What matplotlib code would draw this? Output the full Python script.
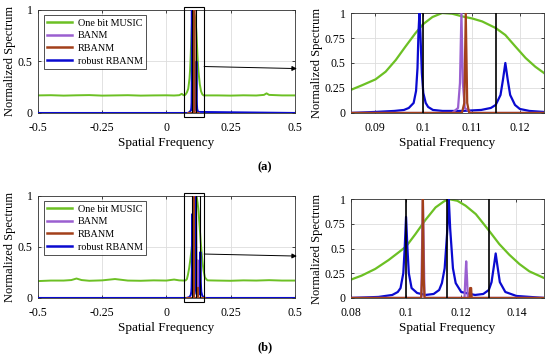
import matplotlib
matplotlib.use('Agg')
import matplotlib.pyplot as plt
from matplotlib.patches import Rectangle

plt.rcParams['font.family'] = ['Liberation Serif', 'DejaVu Serif']

GREEN = '#6cc024'
PURPLE = '#9a5fd0'
RED = '#a3401a'
BLUE = '#0a0ad0'

# ---- (a) zoomed spectra ----
freq_a = [0.0852, 0.0874, 0.0901, 0.0922, 0.0943, 0.0963, 0.0984, 0.1, 0.1019, 0.1039,
          0.106, 0.1081, 0.1101, 0.1122, 0.115, 0.117, 0.1191, 0.1212, 0.1232, 0.125]
music_a = [0.235, 0.279, 0.336, 0.413, 0.53, 0.664, 0.80, 0.89, 0.96, 1.0,
           0.993, 0.966, 0.946, 0.916, 0.85, 0.78, 0.664, 0.55, 0.463, 0.40]

robust_a_x = [0.085, 0.09, 0.094, 0.096, 0.097, 0.098, 0.0985, 0.0988, 0.099, 0.0992, 0.0994, 0.0997,
              0.1, 0.1005, 0.101, 0.102, 0.104, 0.108, 0.112, 0.114, 0.115, 0.116, 0.1165, 0.117,
              0.1175, 0.118, 0.119, 0.12, 0.122, 0.125]
robust_a_y = [0.0, 0.01, 0.02, 0.03, 0.05, 0.1, 0.22, 0.45, 0.8, 1.0, 0.8, 0.4,
              0.2, 0.1, 0.06, 0.03, 0.02, 0.02, 0.03, 0.05, 0.08, 0.18, 0.33, 0.5,
              0.33, 0.18, 0.08, 0.04, 0.02, 0.01]
banm_a_x = [0.085, 0.106, 0.1072, 0.1076, 0.1079, 0.1082, 0.1086, 0.11, 0.125]
banm_a_y = [0.0, 0.0, 0.05, 0.3, 1.0, 0.3, 0.05, 0.0, 0.0]
rbanm_a_x = [0.085, 0.108, 0.1085, 0.1088, 0.1091, 0.1095, 0.125]
rbanm_a_y = [0.0, 0.0, 0.1, 1.0, 0.1, 0.0, 0.0]
true_a = [0.1, 0.115]

# (a) far-field baseline of one bit MUSIC
far_a_left_x = [-0.5, -0.45, -0.4, -0.35, -0.3, -0.25, -0.2, -0.15, -0.1, -0.05, 0.0,
                0.03, 0.05, 0.06, 0.065, 0.07, 0.075, 0.08]
far_a_left_y = [0.17, 0.172, 0.168, 0.171, 0.173, 0.168, 0.17, 0.172, 0.168, 0.17, 0.171,
                0.169, 0.172, 0.185, 0.175, 0.17, 0.18, 0.2]
far_a_right_x = [0.13, 0.135, 0.14, 0.145, 0.15, 0.2, 0.25, 0.3, 0.35, 0.38, 0.39, 0.4, 0.45, 0.5]
far_a_right_y = [0.28, 0.21, 0.18, 0.17, 0.17, 0.17, 0.168, 0.171, 0.169, 0.175, 0.19, 0.175, 0.17, 0.17]

# ---- (b) zoomed spectra ----
freq_b = [0.08, 0.0839, 0.0888, 0.0937, 0.0973, 0.1, 0.1034, 0.107, 0.1107, 0.1137, 0.1155,
          0.1186, 0.1216, 0.1253, 0.1301, 0.1338, 0.1374, 0.1411, 0.1447, 0.15]
music_b = [0.185, 0.226, 0.293, 0.384, 0.461, 0.52, 0.646, 0.788, 0.916, 0.976, 1.0,
           0.983, 0.933, 0.848, 0.68, 0.545, 0.438, 0.343, 0.269, 0.202]

robust_b_x = [0.08, 0.09, 0.095, 0.097, 0.098, 0.099, 0.0995, 0.1, 0.1005, 0.101, 0.102, 0.104,
              0.107, 0.11, 0.112, 0.113, 0.114, 0.115, 0.1155, 0.116, 0.117, 0.118, 0.12, 0.125,
              0.128, 0.13, 0.131, 0.132, 0.1325, 0.133, 0.134, 0.136, 0.14, 0.15]
robust_b_y = [0.0, 0.01, 0.03, 0.06, 0.1, 0.25, 0.5, 0.82, 0.5, 0.25, 0.1, 0.05,
              0.03, 0.04, 0.08, 0.15, 0.3, 0.7, 1.0, 0.7, 0.3, 0.15, 0.06, 0.03,
              0.04, 0.08, 0.16, 0.35, 0.45, 0.35, 0.16, 0.06, 0.02, 0.0]
banm_b_x = [0.08, 0.1055, 0.1061, 0.1067, 0.1212, 0.1215, 0.1218, 0.1221, 0.1224, 0.15]
banm_b_y = [0.0, 0.0, 1.0, 0.0, 0.0, 0.2, 0.37, 0.2, 0.0, 0.0]
rbanm_b_x = [0.08, 0.1055, 0.1058, 0.1061, 0.1064, 0.1067, 0.123, 0.1232, 0.1236, 0.1238, 0.15]
rbanm_b_y = [0.0, 0.0, 0.2, 1.0, 0.2, 0.0, 0.0, 0.1, 0.1, 0.0, 0.0]
true_b = [0.1, 0.115, 0.13]

far_b_left_x = [-0.5, -0.45, -0.4, -0.37, -0.35, -0.33, -0.3, -0.25, -0.2, -0.15, -0.1,
                -0.05, 0.0, 0.03, 0.05, 0.07, 0.075]
far_b_left_y = [0.165, 0.17, 0.17, 0.175, 0.19, 0.175, 0.168, 0.172, 0.185, 0.17, 0.168,
                0.172, 0.17, 0.18, 0.172, 0.17, 0.172]
far_b_right_x = [0.155, 0.16, 0.2, 0.25, 0.3, 0.35, 0.4, 0.45, 0.5]
far_b_right_y = [0.185, 0.172, 0.17, 0.168, 0.172, 0.17, 0.174, 0.17, 0.17]

labels = ['One bit MUSIC', 'BANM', 'RBANM', 'robust RBANM']


def style(ax, xlim, xticks, xlabels, yticks, ylabels):
    ax.set_xlim(xlim)
    ax.set_ylim(0, 1)
    ax.set_xticks(xticks)
    ax.set_xticklabels(xlabels)
    ax.set_yticks(yticks)
    ax.set_yticklabels(ylabels)
    ax.tick_params(direction='in', labelsize=8.5, length=2.5, width=0.5, top=True, right=True)
    ax.tick_params(axis='x', pad=6.5)
    ax.tick_params(axis='y', pad=4)
    ax.grid(True, color='#dddddd', linewidth=0.6)
    ax.set_axisbelow(True)
    for s in ax.spines.values():
        s.set_linewidth(0.6)
        s.set_color('#333333')
    ax.set_xlabel('Spatial Frequency', fontsize=9.5, labelpad=2)
    ax.set_ylabel('Normalized Spectrum', fontsize=9, labelpad=1)


def draw_spectra(ax, gx, gy, rx, ry, bx, by, ex, ey, lw):
    h1, = ax.plot(gx, gy, color=GREEN, lw=lw, zorder=2)
    h4, = ax.plot(rx, ry, color=BLUE, lw=lw, zorder=3)
    h2, = ax.plot(bx, by, color=PURPLE, lw=lw, zorder=4)
    h3, = ax.plot(ex, ey, color=RED, lw=lw, zorder=5)
    return [h1, h2, h3, h4]


fig = plt.figure(figsize=(5.5, 3.62), dpi=100)
ax1 = fig.add_axes([0.069, 0.688, 0.467, 0.285])
ax2 = fig.add_axes([0.638, 0.688, 0.351, 0.276])
ax3 = fig.add_axes([0.069, 0.177, 0.467, 0.282])
ax4 = fig.add_axes([0.638, 0.177, 0.351, 0.273])

for ax, (lgx, lgy, rgx, rgy), (gx, gy, rx, ry, bx, by, ex, ey), trues in [
        (ax1, (far_a_left_x, far_a_left_y, far_a_right_x, far_a_right_y),
         (freq_a, music_a, robust_a_x, robust_a_y, banm_a_x, banm_a_y, rbanm_a_x, rbanm_a_y), true_a),
        (ax3, (far_b_left_x, far_b_left_y, far_b_right_x, far_b_right_y),
         (freq_b, music_b, robust_b_x, robust_b_y, banm_b_x, banm_b_y, rbanm_b_x, rbanm_b_y), true_b)]:
    # full range view
    handles = draw_spectra(ax, lgx + gx + rgx, lgy + gy + rgy,
                           [-0.5] + rx + [0.5], [0.0] + ry + [0.0],
                           bx, by, ex, ey, 1.4)
    for t in trues:
        ax.plot([t, t], [0, 1], color='k', lw=0.8, zorder=6)
    style(ax, (-0.5, 0.5), [-0.5, -0.25, 0, 0.25, 0.5],
          ['-0.5', '-0.25', '0', '0.25', '0.5'], [0, 0.5, 1], ['0', '0.5', '1'])
    ax.add_patch(Rectangle((0.07, -0.04), 0.077, 1.07, fill=False, edgecolor='k',
                           lw=0.8, clip_on=False, zorder=7))
    leg = ax.legend(handles, labels, loc='upper left', fontsize=7.3, frameon=True,
                    fancybox=False, edgecolor='k', handlelength=2.4, borderpad=0.35,
                    labelspacing=0.35, handletextpad=0.6, borderaxespad=0,
                    bbox_to_anchor=(0.023, 0.95))
    leg.get_frame().set_linewidth(0.6)
    for l in leg.get_lines():
        l.set_linewidth(1.8)

# zoomed views
draw_spectra(ax2, freq_a, music_a, robust_a_x, robust_a_y, banm_a_x, banm_a_y,
             rbanm_a_x, rbanm_a_y, 1.6)
for t in true_a:
    ax2.plot([t, t], [0, 1], color='k', lw=1.2, zorder=6)
style(ax2, (0.085, 0.125), [0.09, 0.1, 0.11, 0.12], ['0.09', '0.1', '0.11', '0.12'],
      [0, 0.25, 0.5, 0.75, 1], ['0', '0.25', '0.5', '0.75', '1'])

draw_spectra(ax4, freq_b, music_b, robust_b_x, robust_b_y, banm_b_x, banm_b_y,
             rbanm_b_x, rbanm_b_y, 1.6)
for t in true_b:
    ax4.plot([t, t], [0, 1], color='k', lw=1.2, zorder=6)
style(ax4, (0.08, 0.15), [0.08, 0.1, 0.12, 0.14], ['0.08', '0.1', '0.12', '0.14'],
      [0, 0.25, 0.5, 0.75, 1], ['0', '0.25', '0.5', '0.75', '1'])

# arrows from zoom box towards zoomed panels
for ax, yv in [(ax1, 0.45), (ax3, 0.43)]:
    ax.annotate('', xy=(0.508, yv - 0.02), xytext=(0.147, yv), xycoords='data',
                textcoords='data', annotation_clip=False,
                arrowprops=dict(arrowstyle='-|>', color='k', lw=0.7, mutation_scale=7,
                                shrinkA=0, shrinkB=0))

fig.text(0.482, 0.539, '(a)', fontsize=9, fontweight='bold', ha='center', va='center')
fig.text(0.482, 0.041, '(b)', fontsize=9, fontweight='bold', ha='center', va='center')

fig.savefig('out.png', dpi=100)
